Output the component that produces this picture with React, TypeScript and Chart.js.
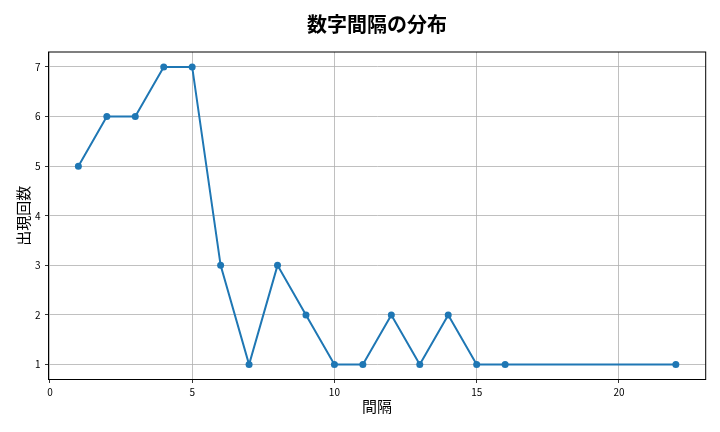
import { useEffect, useRef } from 'react'
import { Chart, ChartConfiguration, Plugin, registerables } from 'chart.js'

Chart.register(...registerables)

const intervals = [1, 2, 3, 4, 5, 6, 7, 8, 9, 10, 11, 12, 13, 14, 15, 16, 22]
const counts = [5, 6, 6, 7, 7, 3, 1, 3, 2, 1, 1, 2, 1, 2, 1, 1, 1]

const chartTitle = '数字間隔の分布'
const xTitle = '間隔'
const yTitle = '出現回数'

const FONT = "'Noto Sans CJK JP', 'Noto Sans', sans-serif"

// title centred over the plot area plus the top/right spines, like matplotlib
const frame: Plugin<'line'> = {
  id: 'frame',
  afterDraw(chart) {
    const { ctx, chartArea } = chart
    ctx.save()
    ctx.strokeStyle = '#000'
    ctx.lineWidth = 1
    ctx.strokeRect(chartArea.left, chartArea.top, chartArea.right - chartArea.left, chartArea.bottom - chartArea.top)
    ctx.fillStyle = '#000'
    ctx.font = `bold 20px ${FONT}`
    ctx.textAlign = 'center'
    ctx.textBaseline = 'middle'
    ctx.fillText(chartTitle, (chartArea.left + chartArea.right) / 2, 24.5)
    ctx.restore()
  },
}

export default function App() {
  const canvasRef = useRef<HTMLCanvasElement>(null)
  const chartInstance = useRef<Chart | null>(null)

  useEffect(() => {
    if (!canvasRef.current) return
    if (chartInstance.current) chartInstance.current.destroy()

    const config: ChartConfiguration<'line'> = {
      type: 'line',
      data: {
        datasets: [
          {
            data: intervals.map((x, i) => ({ x, y: counts[i] })),
            borderColor: '#1f77b4',
            backgroundColor: '#1f77b4',
            borderWidth: 2,
            pointRadius: 3.5,
            pointBorderWidth: 0,
            pointBackgroundColor: '#1f77b4',
            tension: 0,
          },
        ],
      },
      options: {
        responsive: true,
        maintainAspectRatio: false,
        animation: false,
        layout: { padding: { top: 52, right: 14.3, left: 0, bottom: 0 } },
        plugins: {
          legend: { display: false },
          tooltip: { enabled: false },
        },
        scales: {
          x: {
            type: 'linear',
            min: -0.05,
            max: 23.05,
            afterFit: (scale) => {
              scale.height = 52.5
            },
            ticks: {
              stepSize: 5,
              includeBounds: false,
              color: '#000',
              padding: 3,
              maxRotation: 0,
              font: { family: FONT, size: 10 },
            },
            grid: { color: '#b0b0b0', lineWidth: 0.8, tickColor: '#000', tickLength: 3.5 },
            border: { color: '#000', width: 1 },
            title: {
              display: true,
              text: xTitle,
              color: '#000',
              font: { family: FONT, size: 15 },
              padding: { top: 0, bottom: 17 },
            },
          },
          y: {
            type: 'linear',
            min: 0.7,
            max: 7.3,
            afterFit: (scale) => {
              scale.width = 48.5
            },
            ticks: {
              stepSize: 1,
              includeBounds: false,
              color: '#000',
              padding: 4.5,
              font: { family: FONT, size: 10 },
            },
            grid: { color: '#b0b0b0', lineWidth: 0.8, tickColor: '#000', tickLength: 3.5 },
            border: { color: '#000', width: 1 },
            title: {
              display: true,
              text: yTitle,
              color: '#000',
              font: { family: FONT, size: 15 },
              padding: { top: 14.5, bottom: 0 },
            },
          },
        },
      },
      plugins: [frame],
    }

    chartInstance.current = new Chart(canvasRef.current, config)

    return () => {
      if (chartInstance.current) {
        chartInstance.current.destroy()
        chartInstance.current = null
      }
    }
  }, [])

  return (
    <div style={{ position: 'absolute', left: 0, top: 0, width: 720, height: 432, background: '#fff' }}>
      <canvas ref={canvasRef}></canvas>
    </div>
  )
}
